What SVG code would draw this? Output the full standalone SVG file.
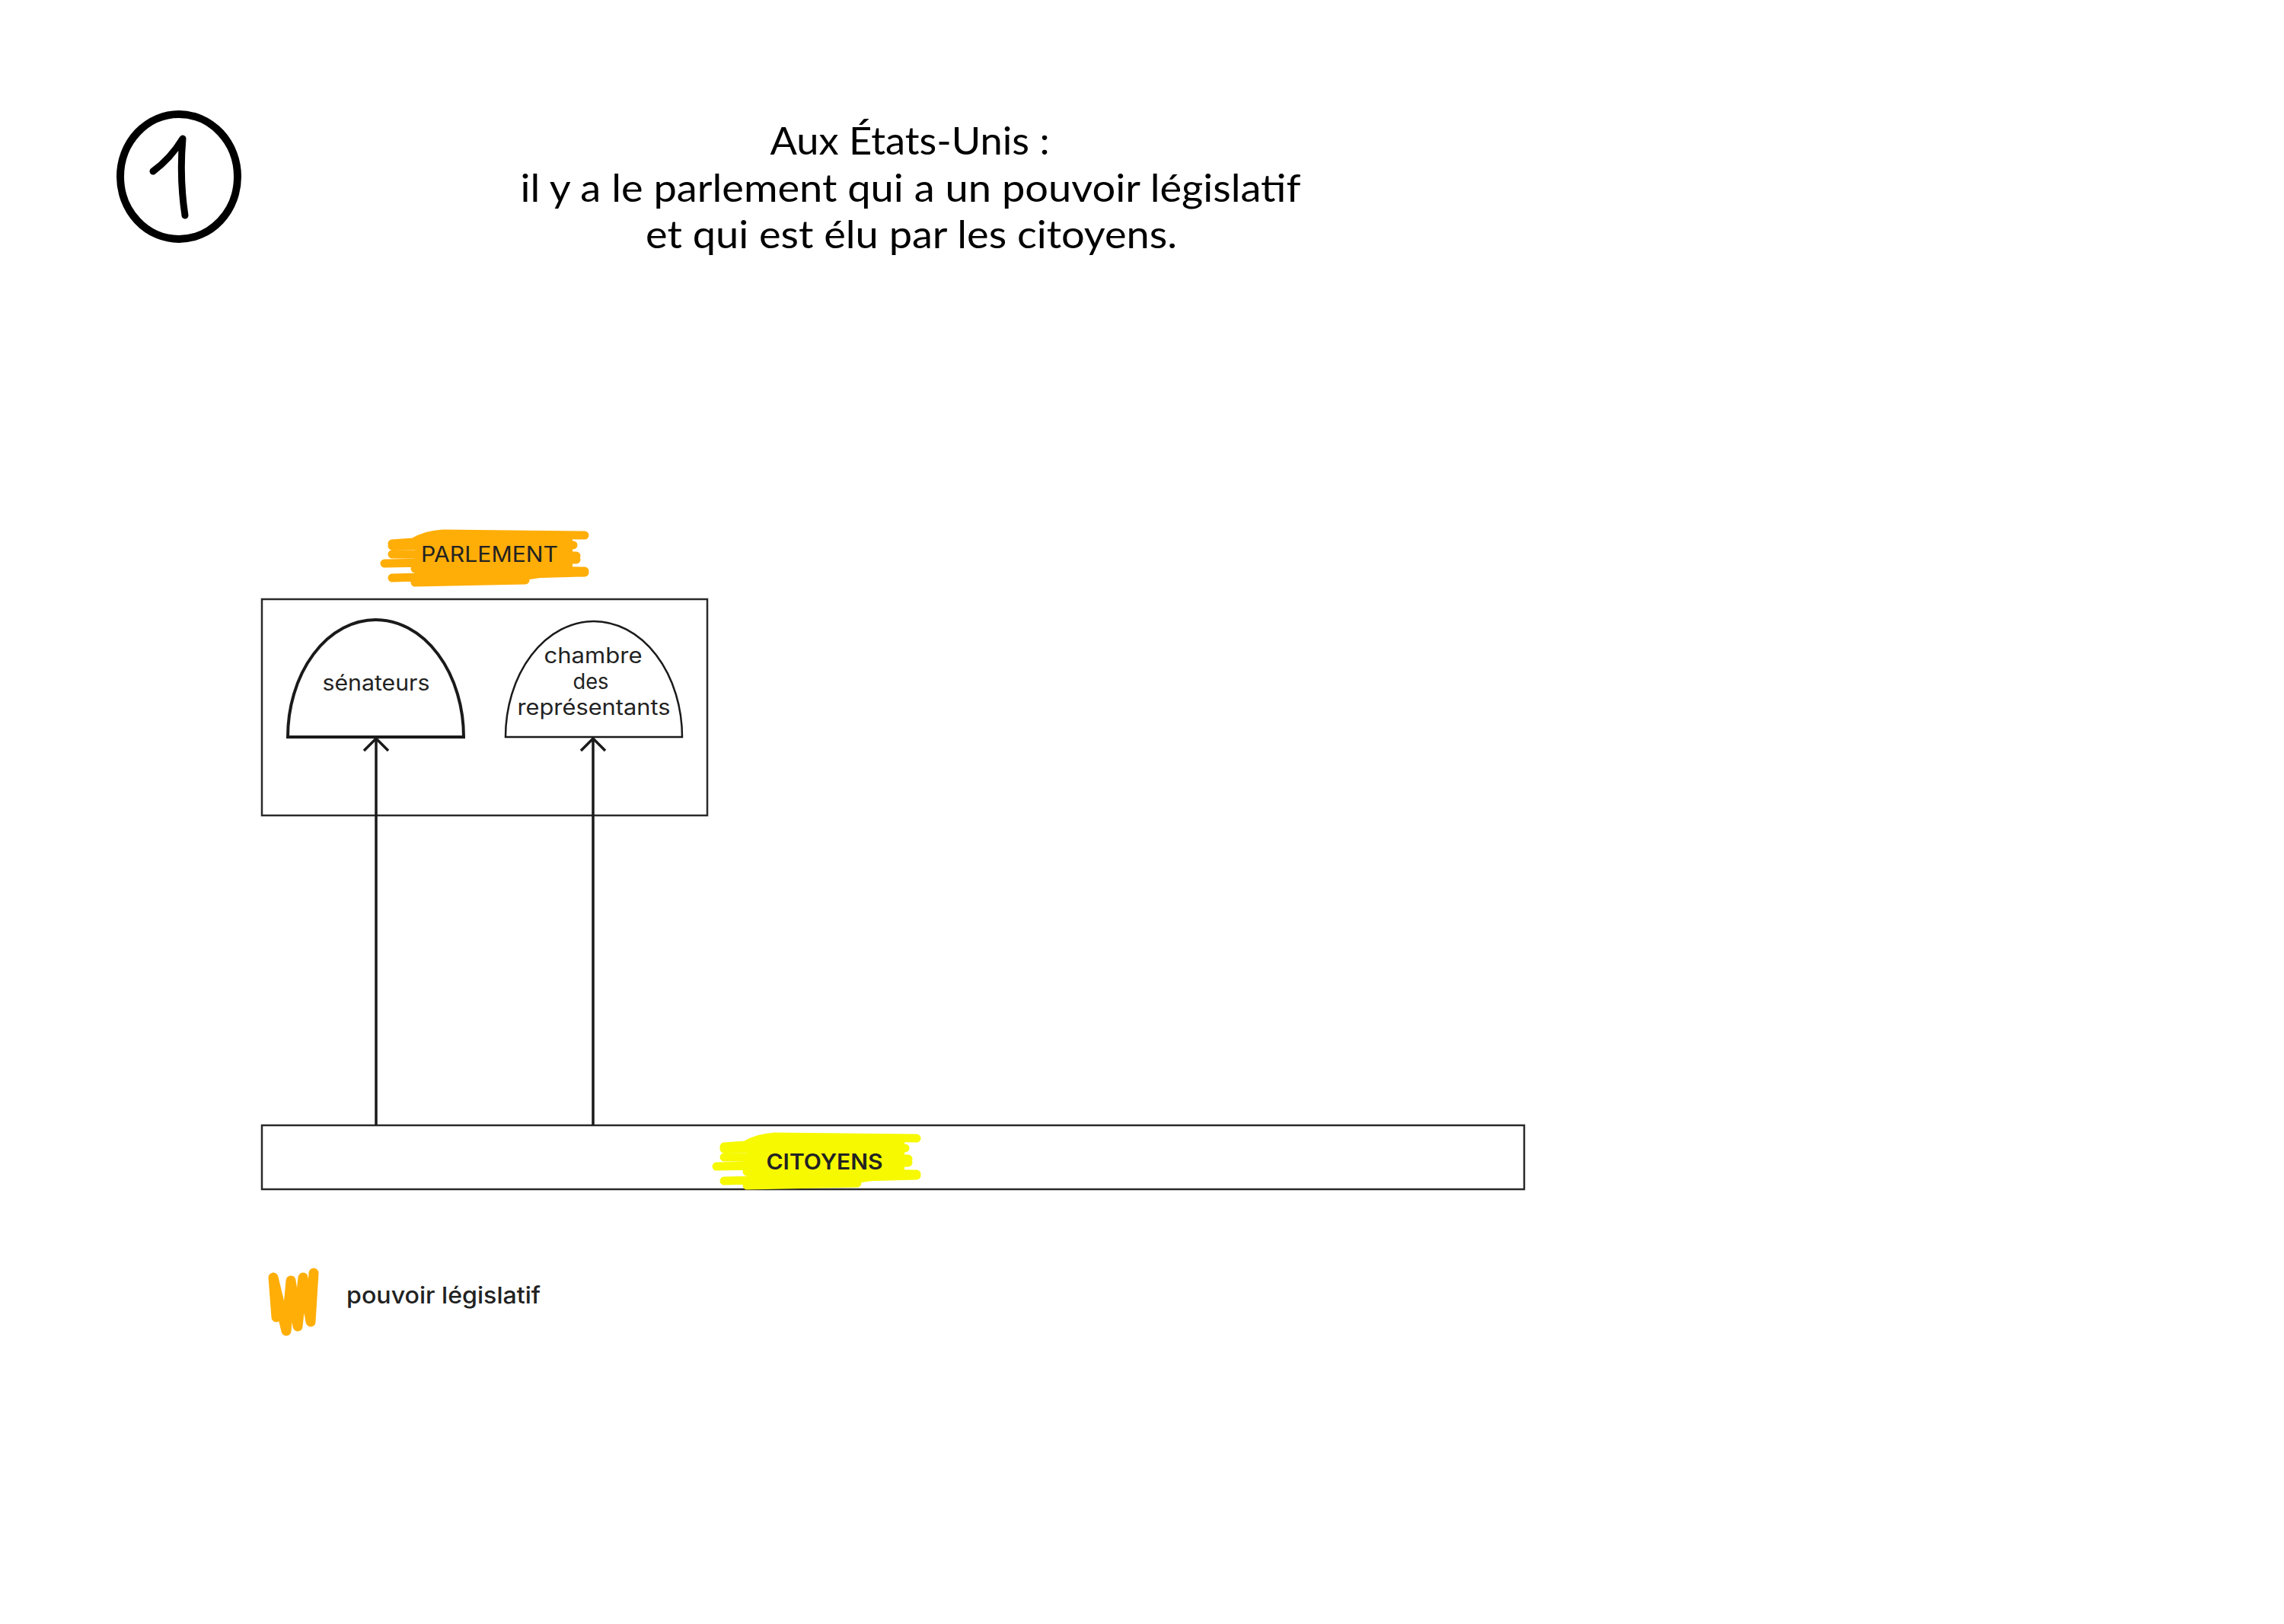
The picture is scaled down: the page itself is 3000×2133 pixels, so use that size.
<svg xmlns="http://www.w3.org/2000/svg" width="3000" height="2133" viewBox="0 0 3000 2133">
<style>
.title{font-family:Lato,"Liberation Sans",sans-serif;font-size:51px;fill:#000;text-anchor:middle}
.lbl{font-family:Inter,"Noto Sans","Liberation Sans",sans-serif;font-size:28px;fill:#222;text-anchor:middle}
.box{fill:none;stroke:#2a2a2a;stroke-width:2.5}
.dome{fill:#fff;stroke:#1a1a1a}
.conn{stroke:#1a1a1a;stroke-width:3.5;fill:none}
.scrib{fill:none;stroke-width:11;stroke-linecap:round;stroke-linejoin:round}
</style>
<defs>
<marker id="arr" markerUnits="userSpaceOnUse" markerWidth="44" markerHeight="44" refX="22" refY="22" orient="auto">
<path d="M6,6 L22,22 L6,38" fill="none" stroke="#1a1a1a" stroke-width="3.5"/>
</marker>
<g id="scribble">
<path d="M55,26 L262,24 L262,72 L200,82 L55,84 Z" stroke="none"/>
<path class="scrib" d="M25,34 L53,32 Q70,22 92,21 L278,23 M25,37 L263,36 M25,48 L267,50 M15,60 L267,55 M55,67 L278,70 M25,79 L278,72 M55,85 L200,82"/>
</g>
</defs>

<g id="badge">
<ellipse cx="235" cy="232" rx="77" ry="82" fill="none" stroke="#000" stroke-width="10"/>
<path d="M201,225 C216,214 229,200 240,182 C237,216 238,250 243,283" fill="none" stroke="#000" stroke-width="9" stroke-linecap="round" stroke-linejoin="round"/>
</g>

<g id="title">
<text class="title" x="1195" y="203" textLength="367" lengthAdjust="spacingAndGlyphs">Aux États-Unis :</text>
<text class="title" x="1196" y="265" textLength="1025" lengthAdjust="spacingAndGlyphs">il y a le parlement qui a un pouvoir législatif</text>
<text class="title" x="1197" y="326" textLength="698" lengthAdjust="spacingAndGlyphs">et qui est élu par les citoyens.</text>
</g>

<g id="parlement">
<use href="#scribble" transform="translate(490,680)" fill="#ffae08" stroke="#ffae08"/>
<text class="lbl" x="643" y="738" textLength="180" lengthAdjust="spacingAndGlyphs">PARLEMENT</text>
<rect class="box" x="344" y="787" width="585" height="284"/>
</g>

<g id="senateurs">
<path class="dome" stroke-width="4" d="M378,968 A115.5,154 0 0 1 609,968 Z"/>
<text class="lbl" x="494" y="907" textLength="141" lengthAdjust="spacingAndGlyphs">sénateurs</text>
</g>

<g id="chambre">
<path class="dome" stroke-width="2.5" d="M664,968 A116,152 0 0 1 896,968 Z"/>
<text class="lbl" x="779" y="871" textLength="129" lengthAdjust="spacingAndGlyphs">chambre</text>
<text class="lbl" x="776" y="905" textLength="47" lengthAdjust="spacingAndGlyphs">des</text>
<text class="lbl" x="780" y="939" textLength="201" lengthAdjust="spacingAndGlyphs">représentants</text>
</g>

<g id="citoyens">
<rect class="box" x="344" y="1478" width="1658" height="84" fill="#fff" stroke-width="3"/>
<use href="#scribble" transform="translate(926,1472)" fill="#f6f900" stroke="#f6f900"/>
<text class="lbl" x="1083" y="1536" font-weight="600" textLength="153" lengthAdjust="spacingAndGlyphs">CITOYENS</text>
</g>

<g id="connectors">
<line class="conn" x1="494" y1="1478" x2="494" y2="970" marker-end="url(#arr)"/>
<line class="conn" x1="779" y1="1478" x2="779" y2="970" marker-end="url(#arr)"/>
</g>

<g id="legend">
<path d="M359,1678 L363,1730 M359,1678 L376,1748 L382,1682 L391,1742 L398,1678 L408,1736 L412,1672" fill="none" stroke="#ffae08" stroke-width="13" stroke-linecap="round" stroke-linejoin="round"/>
<text x="455" y="1712" font-family="Inter,'Noto Sans','Liberation Sans',sans-serif" font-size="30" font-weight="500" fill="#222" textLength="255" lengthAdjust="spacingAndGlyphs">pouvoir législatif</text>
</g>
</svg>
